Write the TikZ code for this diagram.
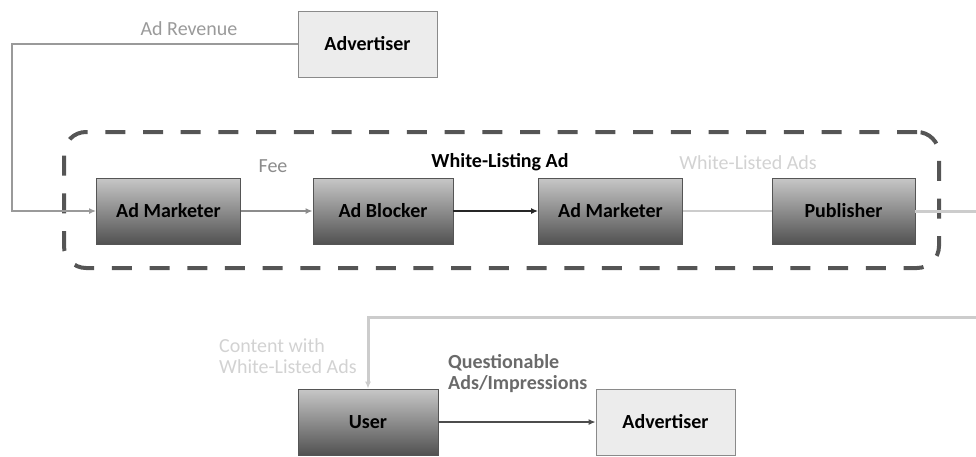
\documentclass[tikz,border=0pt]{standalone}
\usepackage{fontspec}
\setmainfont{Carlito}
\usetikzlibrary{arrows.meta}
\definecolor{boxedge}{HTML}{555555}
\definecolor{advfill}{HTML}{ECECEC}
\definecolor{advedge}{HTML}{8A8A8A}
\definecolor{revcol}{HTML}{9A9A9A}
\definecolor{feecol}{HTML}{8C8C8C}
\definecolor{palecol}{HTML}{CCCCCC}
\definecolor{paletext}{HTML}{D2D2D2}
\definecolor{questcol}{HTML}{6A6A6A}
\definecolor{dashcol}{HTML}{555555}
\begin{document}
\begin{tikzpicture}[x=1pt,y=-1pt,
  txt/.style={font=\fontsize{20}{21}\selectfont, inner sep=0pt},
  darkbox/.style={txt, font=\fontsize{20}{21}\selectfont\bfseries, draw=boxedge, line width=0.8pt,
     top color=black!22, bottom color=black!68, minimum width=144pt, minimum height=66pt},
  advbox/.style={txt, font=\fontsize{20}{21}\selectfont\bfseries, draw=advedge, line width=0.8pt,
     fill=advfill, minimum width=139pt, minimum height=66pt},
  frame/.style={draw=dashcol, line width=4pt, dash pattern=on 20pt off 17.7pt, rounded corners=22pt,
     minimum width=875pt, minimum height=136pt, inner sep=0pt},
  tip/.style={-{Latex[length=7pt,width=6pt]}},
]
\useasboundingbox (0,0) rectangle (976,456);

% dashed frame
\node[frame] (frame) at (501.5,200) {};

% boxes
\node[advbox] (adv1) at (367.5,44) {Advertiser};
\node[darkbox] (am1) at (168.5,211) {Ad Marketer};
\node[darkbox, minimum width=140pt] (ab) at (383,211) {Ad Blocker};
\node[darkbox] (am2) at (610.5,211) {Ad Marketer};
\node[darkbox, minimum width=143pt] (pub) at (843.5,211) {Publisher};
\node[darkbox, minimum width=140pt] (user) at (368,422) {User};
\node[advbox] (adv2) at (665.5,422) {Advertiser};

% labels
\node[txt, text=revcol] (lrev) at (189,29) {Ad Revenue};
\node[txt, text=feecol] (lfee) at (273,166) {Fee};
\node[txt, font=\fontsize{20}{21}\selectfont\bfseries] (lwl) at (500,162) {White-Listing Ad};
\node[txt, text=paletext] (lwd) at (748,163) {White-Listed Ads};
\node[txt, text=paletext, align=left, anchor=west] (lcont) at (219,356.5) {Content with\\White-Listed Ads};
\node[txt, text=questcol, align=left, anchor=west, font=\fontsize{20}{21}\selectfont\bfseries] (lq) at (448,373.5) {Questionable\\Ads/Impressions};

% connectors
\coordinate (rv) at (12,44);
\draw[revcol, line width=2.6pt, tip] (adv1.west) -- (rv) |- (am1.west);
\draw[feecol, line width=2pt, tip] (am1.east) -- (ab.west);
\draw[black!85, line width=2.6pt, tip] (ab.east) -- (am2.west);
\draw[palecol, line width=2.2pt] (am2.east) -- (pub.west);
\coordinate (r1) at (976,211);
\draw[palecol, line width=3pt] (pub.east) -- (r1);
\coordinate (r2) at (976,317);
\draw[palecol, line width=3pt, tip] (r2) -| (user.north);
\draw[black!70, line width=2.6pt, tip] (user.east) -- (adv2.west);
\end{tikzpicture}
\end{document}
